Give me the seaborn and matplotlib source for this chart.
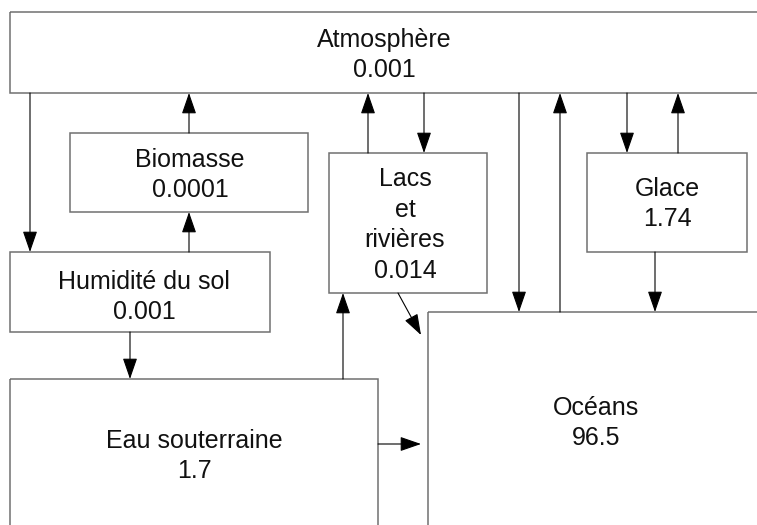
import matplotlib
matplotlib.use("Agg")
import matplotlib.pyplot as plt
from matplotlib.patches import Rectangle
import seaborn as sns

# stocks d'eau (% du total)
reservoirs = ["Atmosphère", "Biomasse", "Humidité du sol", "Lacs\net\nrivières",
              "Glace", "Eau souterraine", "Océans"]
volumes = ["0.001", "0.0001", "0.001", "0.014", "1.74", "1.7", "96.5"]

# layout in pixel space: (x0, y0, x1, y1), text centre
boxes = [(10, 12, 770, 93), (70, 133, 308, 212), (10, 252, 270, 332),
         (329, 153, 487, 293), (587, 153, 747, 252), (10, 379, 378, 540),
         (428, 312, 770, 540)]
text_pos = [(384, 55), (190, 175), (144, 297), (405, 225), (667, 204),
            (194, 456), (596, 423)]

# flows: start -> end
flows = [(30, 93, 30, 252), (189, 133, 189, 93), (189, 252, 189, 212),
         (130, 332, 130, 379), (368, 153, 368, 93), (424, 93, 424, 153),
         (343, 379, 343, 293), (398, 293, 421, 335), (378, 444, 421, 444),
         (519, 93, 519, 312), (560, 312, 560, 93), (627, 93, 627, 153),
         (678, 153, 678, 93), (655, 252, 655, 312)]

sns.set_theme(style="white")
plt.rcParams["font.family"] = ["Liberation Sans", "DejaVu Sans"]

fig = plt.figure(figsize=(7.57, 5.25), dpi=100)
ax = fig.add_axes([0, 0, 1, 1])
ax.set_xlim(0, 757)
ax.set_ylim(525, 0)
ax.axis("off")

for (x0, y0, x1, y1), name, vol, (tx, ty) in zip(boxes, reservoirs, volumes, text_pos):
    ax.add_patch(Rectangle((x0, y0), x1 - x0, y1 - y0, fill=False,
                           edgecolor="#707070", lw=1.1))
    ax.text(tx, ty, f"{name}\n{vol}", ha="center", va="center",
            fontsize=18, linespacing=1.34, color="#111111")

for x0, y0, x1, y1 in flows:
    ax.annotate("", xy=(x1, y1), xytext=(x0, y0),
                arrowprops=dict(arrowstyle="-|>,head_length=1.3,head_width=0.45",
                                mutation_scale=10, lw=0.8, color="black",
                                shrinkA=0, shrinkB=0))

fig.savefig("out.png", dpi=100)
plt.close(fig)
